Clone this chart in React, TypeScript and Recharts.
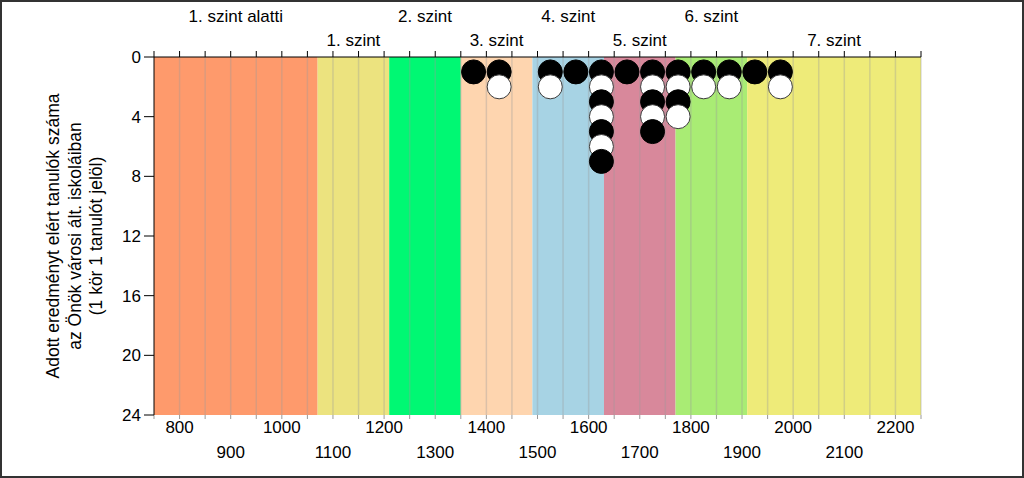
import {
  ComposedChart,
  Scatter,
  XAxis,
  YAxis,
  ReferenceArea,
  ReferenceLine,
  Label,
} from "recharts";

// score bins (centre of each 50-point bin) and number of students in each
const binScores = [1375, 1425, 1525, 1575, 1625, 1675, 1725, 1775, 1825, 1875, 1925, 1975];
const studentCounts = [1, 2, 2, 1, 7, 1, 5, 4, 2, 2, 1, 2];

// proficiency levels
const levelNames = [
  "1. szint alatti",
  "1. szint",
  "2. szint",
  "3. szint",
  "4. szint",
  "5. szint",
  "6. szint",
  "7. szint",
];
const levelBounds = [750, 1070, 1210, 1350, 1490, 1630, 1770, 1910, 2250];
const levelColors = [
  "#FE9A6C",
  "#ECE37F",
  "#00F873",
  "#FED5AF",
  "#A7D3E4",
  "#D8889B",
  "#A9EC74",
  "#EEEB79",
];

const xTicks = Array.from({ length: 31 }, (_, i) => 750 + i * 50);
const gridLines = xTicks.slice(1);
const yTicks = [0, 4, 8, 12, 16, 20, 24];

const yTitleLines = [
  "Adott eredményt elért tanulók száma",
  "az Önök városi ált. iskoláiban",
  "(1 kör 1 tanulót jelöl)",
];

const FONT = 17;

// one point per student, stacked in its bin
const points: { score: number; rank: number }[] = [];
binScores.forEach((s, i) => {
  for (let k = 1; k <= studentCounts[i]; k++) points.push({ score: s, rank: k });
});

function BottomTick(props: any) {
  const { x, y, payload } = props;
  const v = payload.value;
  if (v % 100 !== 0) return <g />;
  const lower = (v / 100) % 2 === 1;
  return (
    <text x={x} y={y + (lower ? 37 : 12)} textAnchor="middle" fontSize={FONT} fill="#000">
      {v}
    </text>
  );
}

function Student(props: any) {
  const { cx, cy, payload } = props;
  const black = payload.rank % 2 === 1;
  return (
    <circle
      cx={cx}
      cy={cy}
      r={12}
      fill={black ? "#000" : "#fff"}
      stroke={black ? "#000" : "#3a3a3a"}
      strokeWidth={1}
    />
  );
}

export default function App() {
  return (
    <div
      style={{
        position: "absolute",
        left: 0,
        top: 0,
        width: 1024,
        height: 478,
        background: "#fff",
        fontFamily: "'Liberation Sans', Arial, sans-serif",
      }}
    >
      <ComposedChart
        width={1024}
        height={478}
        data={points}
        margin={{ top: 0, right: 103, bottom: 0, left: 0 }}
      >
        <XAxis
          xAxisId="b"
          dataKey="score"
          type="number"
          domain={[750, 2250]}
          ticks={xTicks}
          interval={0}
          height={63}
          axisLine={false}
          tickLine={{ stroke: "#999" }}
          tickSize={4}
          tick={<BottomTick />}
        />
        <XAxis
          xAxisId="t"
          orientation="top"
          dataKey="score"
          type="number"
          domain={[750, 2250]}
          ticks={xTicks}
          interval={0}
          height={57}
          axisLine={{ stroke: "#000" }}
          tickLine={{ stroke: "#000" }}
          tickSize={6}
          tick={() => <g />}
        />
        <YAxis
          dataKey="rank"
          type="number"
          domain={[0, 24]}
          reversed
          ticks={yTicks}
          interval={0}
          width={154}
          axisLine={{ stroke: "#000" }}
          tickLine={{ stroke: "#000" }}
          tickSize={10}
          tickMargin={3}
          tick={{ fill: "#000", fontSize: FONT }}
        >
          <Label
            content={() => (
              <g>
                {yTitleLines.map((t, i) => (
                  <text
                    key={i}
                    transform={`translate(${53 + i * 21.5},236) rotate(-90)`}
                    textAnchor="middle"
                    dominantBaseline="central"
                    fontSize={17.5}
                    fill="#000"
                  >
                    {t}
                  </text>
                ))}
              </g>
            )}
          />
        </YAxis>
        {levelNames.map((name, i) => (
          <ReferenceArea
            key={name}
            xAxisId="b"
            x1={levelBounds[i]}
            x2={levelBounds[i + 1]}
            y1={0}
            y2={24}
            fill={levelColors[i]}
            fillOpacity={1}
            stroke="none"
            label={{
              value: name,
              position: "top",
              offset: i % 2 === 0 ? 35 : 11,
              fill: "#000",
              fontSize: FONT,
            }}
          />
        ))}
        {gridLines.map((v) => (
          <ReferenceLine
            key={v}
            xAxisId="b"
            x={v}
            stroke="#9a9a9a"
            strokeOpacity={0.35}
            strokeWidth={1.5}
          />
        ))}
        <Scatter
          xAxisId="b"
          data={points}
          dataKey="rank"
          shape={<Student />}
          isAnimationActive={false}
        />
      </ComposedChart>
      <div
        style={{
          position: "absolute",
          inset: 0,
          border: "2px solid #333",
          pointerEvents: "none",
        }}
      />
    </div>
  );
}
